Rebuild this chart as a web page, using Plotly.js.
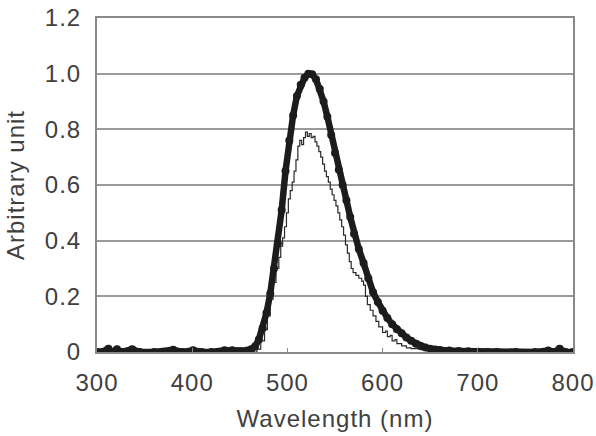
<!DOCTYPE html>
<html>
<head>
<meta charset="utf-8">
<script src="https://cdn.plot.ly/plotly-3.0.1.min.js"></script>
<style>
html,body{margin:0;padding:0;background:#fff;}
#chart{width:596px;height:436px;}
#chart text{letter-spacing:1px;}
</style>
</head>
<body>
<div id="chart"></div>
<script>
// Thick curve (line with dense markers)
const thickX = [300, 305, 312, 316, 321, 326, 337, 345, 360, 380, 390, 401, 410, 420, 434, 442, 450, 458, 462, 466, 470, 474, 478, 482, 486, 490, 494, 498, 502, 506, 510, 514, 518, 522, 526, 530, 534, 538, 542, 546, 550, 554, 558, 562, 566, 570, 575, 580, 585, 590, 595, 600, 605, 610, 615, 620, 625, 630, 635, 640, 645, 650, 655, 660, 670, 680, 690, 700, 710, 720, 740, 760, 774, 780, 786, 792, 800];
const thickY = [0, 0, 0.012, 0, 0.01, 0, 0.01, 0, 0, 0.008, 0, 0.006, 0, 0, 0.006, 0.006, 0.002, 0.005, 0.01, 0.02, 0.045, 0.085, 0.14, 0.21, 0.30, 0.39, 0.51, 0.65, 0.76, 0.85, 0.92, 0.96, 0.985, 1.0, 0.998, 0.98, 0.945, 0.9, 0.845, 0.78, 0.715, 0.655, 0.6, 0.545, 0.485, 0.425, 0.37, 0.32, 0.265, 0.215, 0.18, 0.148, 0.122, 0.1, 0.082, 0.067, 0.052, 0.04, 0.03, 0.022, 0.016, 0.012, 0.009, 0.007, 0.005, 0.004, 0.003, 0.001, 0, 0, 0, 0, 0.005, 0, 0.012, 0, 0];

// Thin curve (noisy step-like trace)
const thinX = [300, 465, 468, 472, 476, 479, 482, 485, 488, 491, 493, 495, 497, 499, 501, 503, 505, 507, 509, 511, 513, 515, 517, 519, 521, 523, 525, 527, 529, 531, 533, 535, 537, 539, 541, 543, 545, 547, 549, 551, 553, 555, 557, 559, 561, 563, 565, 567, 569, 572, 575, 578, 580, 582, 584, 587, 590, 593, 596, 600, 603, 605, 608, 610, 613, 615, 620, 625, 630, 640, 650, 660, 680, 800];
const thinY = [0, 0, 0.01, 0.04, 0.08, 0.13, 0.19, 0.25, 0.30, 0.34, 0.38, 0.41, 0.45, 0.50, 0.55, 0.58, 0.61, 0.65, 0.69, 0.74, 0.76, 0.745, 0.77, 0.79, 0.775, 0.785, 0.77, 0.775, 0.755, 0.74, 0.72, 0.70, 0.675, 0.65, 0.63, 0.61, 0.585, 0.565, 0.545, 0.525, 0.50, 0.475, 0.45, 0.42, 0.385, 0.355, 0.325, 0.30, 0.285, 0.275, 0.265, 0.255, 0.24, 0.2, 0.17, 0.15, 0.13, 0.11, 0.09, 0.07, 0.075, 0.055, 0.06, 0.04, 0.045, 0.03, 0.022, 0.015, 0.012, 0.008, 0.004, 0.002, 0, 0];

const yTickVals = [0, 0.2, 0.4, 0.6, 0.8, 1.0, 1.2];
const yTickText = ["0", "0.2", "0.4", "0.6", "0.8", "1.0", "1.2"];
const xTickVals = [300, 400, 500, 600, 700, 800];

const font = "'Liberation Sans', Arial, sans-serif";
const textColor = "#404040";

const traces = [
  {
    x: thinX, y: thinY, type: "scatter", mode: "lines",
    line: {color: "#2a2a2a", width: 1.2, shape: "hv"},
    showlegend: false
  },
  {
    x: thickX, y: thickY, type: "scatter", mode: "lines+markers",
    line: {color: "#1c1c1c", width: 6.5},
    marker: {color: "#1c1c1c", size: 8},
    showlegend: false
  }
];

const layout = {
  width: 596, height: 436,
  margin: {l: 97, r: 23, t: 18, b: 84},
  paper_bgcolor: "#fff", plot_bgcolor: "#fff",
  font: {family: font, color: textColor, size: 24},
  xaxis: {
    range: [300, 800], tickvals: xTickVals, ticktext: xTickVals.map(String),
    showgrid: false, zeroline: false,
    showline: true, mirror: true, linecolor: "#8a8a8a", linewidth: 2,
    ticks: "inside", ticklen: 4, tickcolor: "#8a8a8a", tickwidth: 1,
    ticklabelstandoff: 8,
    tickfont: {family: font, size: 24, color: textColor},
    title: {text: "Wavelength (nm)", font: {family: font, size: 24, color: textColor}, standoff: 15}
  },
  yaxis: {
    range: [0, 1.2], tickvals: yTickVals, ticktext: yTickText,
    showgrid: true, gridcolor: "#9a9a9a", gridwidth: 2,
    zeroline: false,
    showline: true, mirror: true, linecolor: "#8a8a8a", linewidth: 2,
    ticks: "", ticklabelstandoff: 9,
    tickfont: {family: font, size: 24, color: textColor},
    title: {text: "Arbitrary unit", font: {family: font, size: 24, color: textColor}, standoff: 16}
  }
};

Plotly.newPlot("chart", traces, layout, {displayModeBar: false, staticPlot: true});
</script>
</body>
</html>
